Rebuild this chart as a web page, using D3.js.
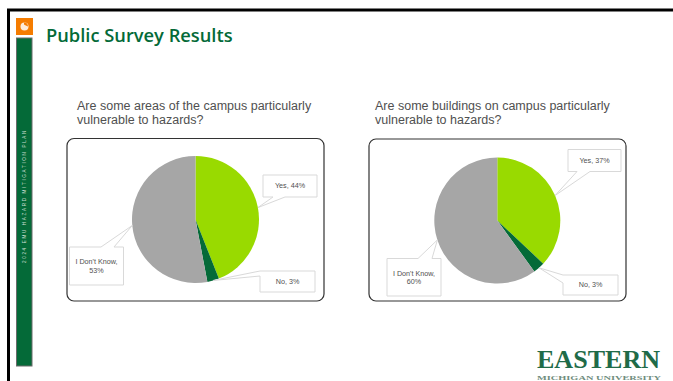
<!DOCTYPE html>
<html><head><meta charset="utf-8">
<script src="https://cdn.jsdelivr.net/npm/d3@7"></script>
<style>html,body{margin:0;padding:0;background:#fff;overflow:hidden}svg{display:block}</style>
</head><body><svg id="c" width="673" height="381"></svg>
<script>
// ---- data ----
const slideTitle = "Public Survey Results";
const sideLabel = "2024 EMU HAZARD MITIGATION PLAN";
const categories = ["Yes", "No", "I Don't Know"];
const areasValues = [44, 3, 53];
const buildingsValues = [37, 3, 60];
const areasQuestion = ["Are some areas of the campus particularly", "vulnerable to hazards?"];
const buildingsQuestion = ["Are some buildings on campus particularly", "vulnerable to hazards?"];
const logoLines = ["EASTERN", "MICHIGAN UNIVERSITY"];

// ---- layout ----
const colors = d3.scaleOrdinal().domain(categories).range(["#99DA00", "#046A38", "#A6A6A6"]);
const panels = [
  {values: areasValues, question: areasQuestion, qx: 77, frame: [67,138.5,257,162.5], cx: 195.5, cy: 219.5, r: 63.5,
   boxes: [{x:263,y:175,w:54,h:22,base:[[273,197],[285,197]]},
           {x:260,y:271,w:55,h:21,base:[[260,271],[260,276]]},
           {x:69.5,y:247,w:54,h:38,base:[[101,247],[114,247]]}]},
  {values: buildingsValues, question: buildingsQuestion, qx: 375, frame: [369,139,257,162], cx: 497.3, cy: 220.5, r: 63,
   boxes: [{x:568,y:149.5,w:53,h:22,base:[[577,171.5],[590,171.5]]},
           {x:563,y:275,w:55,h:20,base:[[563,275],[563,283]]},
           {x:387,y:258.5,w:54,h:37.5,base:[[418,258.5],[432,258.5]]}]}
];
const svg = d3.select("#c");

// slide frame
svg.append("path").attr("d","M8.5 381V10H673").attr("fill","none").attr("stroke","#000").attr("stroke-width",3);
svg.append("rect").attr("x",16).attr("y",18).attr("width",17).attr("height",17).attr("fill","#F57C00");
svg.append("circle").attr("cx",24.5).attr("cy",26.5).attr("r",4).attr("fill","#fff").attr("opacity",.85);
svg.append("path").attr("d","M24 22.5a4 4 0 0 1 4 4c-1.5-1-3-1-4-2z").attr("fill","#F57C00");
svg.append("rect").attr("x",16.5).attr("y",38).attr("width",15.5).attr("height",328).attr("fill","#046A38").attr("stroke","#6b6b6b").attr("stroke-width",1);
svg.append("text").attr("transform","translate(25.8,263) rotate(-90)").text(sideLabel)
  .attr("font-family","Liberation Sans").attr("font-size",4.6).attr("letter-spacing",1.65).attr("fill","#c9dccf");
svg.append("text").attr("x",46).attr("y",42).text(slideTitle)
  .attr("font-family","Open Sans").attr("font-weight",600).attr("font-size",18.3).attr("fill","#046A38");

const pie = d3.pie().sort(null).value(d => d);
panels.forEach(p => {
  p.question.forEach((q,i) => svg.append("text").attr("x",p.qx).attr("y",110+i*14).text(q)
    .attr("font-family","Liberation Sans").attr("font-size",12.5).attr("fill","#505050"));
  svg.append("rect").attr("x",p.frame[0]).attr("y",p.frame[1]).attr("width",p.frame[2]).attr("height",p.frame[3])
    .attr("rx",7).attr("fill","#fff").attr("stroke","#333").attr("stroke-width",1.2);
  const g = svg.append("g").attr("transform",`translate(${p.cx},${p.cy})`);
  const arcs = pie(p.values);
  const arc = d3.arc().innerRadius(0).outerRadius(p.r);
  g.selectAll("path").data(arcs).join("path").attr("d",arc).attr("fill",(d,i)=>colors(categories[i]));
  arcs.forEach((d,i) => {
    const b = p.boxes[i];
    const a = (d.startAngle+d.endAngle)/2;
    const tip = [p.cx+p.r*Math.sin(a), p.cy-p.r*Math.cos(a)];
    const sides = [[b.x,b.y],[b.x+b.w,b.y],[b.x+b.w,b.y+b.h],[b.x,b.y+b.h]];
    let pts;
    const [b0,b1] = b.base;
    if (b0[1]===b.y+b.h) pts = [sides[0],sides[1],sides[2],b1,tip,b0,sides[3]];
    else if (b0[0]===b.x) pts = [sides[0],sides[1],sides[2],sides[3],b1,tip,b0];
    else pts = [sides[0],b0,tip,b1,sides[1],sides[2],sides[3]];
    svg.append("path").attr("d",d3.line()(pts)+"Z").attr("fill","#fff").attr("stroke","#d9d9d9").attr("stroke-width",1);
    const lines = b.h>30 ? [categories[i]+",", p.values[i]+"%"] : [categories[i]+", "+p.values[i]+"%"];
    const t = svg.append("text").attr("text-anchor","middle").attr("font-family","Liberation Sans")
      .attr("font-size",7.2).attr("fill","#505050");
    const mid = b.y+b.h/2+2.4-(lines.length-1)*4;
    lines.forEach((l,j)=>t.append("tspan").attr("x",b.x+b.w/2).attr("y",mid+j*8.4).text(l));
  });
});

// logo
svg.append("text").attr("x",598.5).attr("y",368).attr("text-anchor","middle").text(logoLines[0])
  .attr("font-family","Liberation Serif").attr("font-weight",700).attr("font-size",26).attr("fill","#1f6b48").attr("textLength",123).attr("lengthAdjust","spacingAndGlyphs");
svg.append("text").attr("x",599).attr("y",380).attr("text-anchor","middle").text(logoLines[1])
  .attr("font-family","Liberation Serif").attr("font-weight",700).attr("font-size",7).attr("fill","#6f8d7d").attr("textLength",124).attr("lengthAdjust","spacingAndGlyphs");
</script></body></html>
